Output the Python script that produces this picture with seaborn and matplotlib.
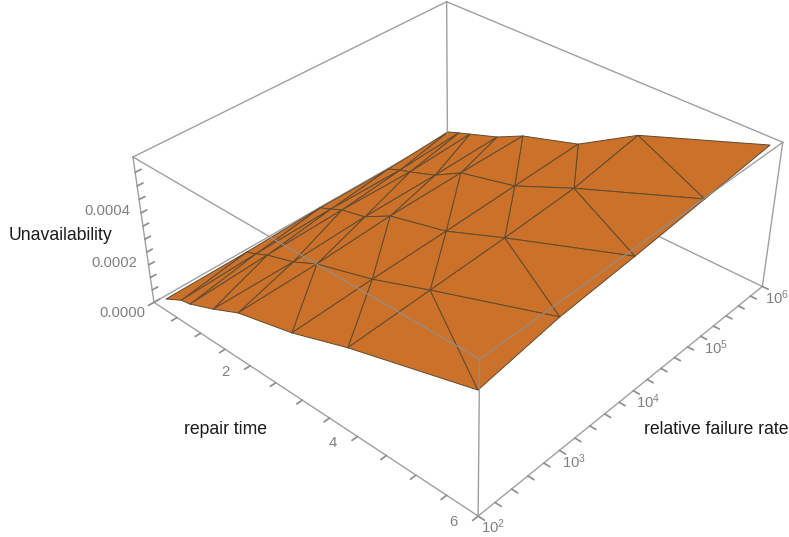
import numpy as np
import matplotlib
matplotlib.use("Agg")
import matplotlib.pyplot as plt
from matplotlib.colors import LightSource
from mpl_toolkits.mplot3d import proj3d
import seaborn as sns

W, H = 789, 537

# log10 of the relative failure rate, one value per mesh row
log_rate = [2, 3, 4, 5, 6]

# repair time of every mesh vertex (rows follow log_rate)
repair_time = [
    [0.30, 0.65, 0.84, 1.34, 1.86, 2.90, 3.91, 5.98],
    [0.25, 0.45, 0.70, 1.25, 1.74, 2.81, 3.85, 5.91],
    [0.18, 0.42, 0.66, 1.14, 1.66, 2.74, 3.79, 5.86],
    [0.13, 0.39, 0.60, 1.13, 1.65, 2.69, 3.75, 5.83],
    [0.01, 0.25, 0.49, 1.06, 1.58, 2.65, 3.71, 5.82],
]

unavailability = [
    [5.0e-5, 8.8e-5, 9.6e-5, 1.38e-4, 1.88e-4, 2.44e-4, 3.20e-4, 4.50e-4],
    [4.2e-5, 5.7e-5, 8.1e-5, 1.17e-4, 1.66e-4, 2.33e-4, 3.17e-4, 4.75e-4],
    [3.6e-5, 5.7e-5, 7.9e-5, 1.03e-4, 1.63e-4, 2.22e-4, 3.14e-4, 4.83e-4],
    [2.4e-5, 4.7e-5, 6.0e-5, 1.01e-4, 1.64e-4, 2.19e-4, 3.21e-4, 5.01e-4],
    [1.2e-5, 3.1e-5, 4.9e-5, 9.2e-5, 1.47e-4, 2.18e-4, 3.57e-4, 5.27e-4],
]

x_ticks = [0, 0.5, 1, 1.5, 2, 2.5, 3, 3.5, 4, 4.5, 5, 5.5, 6]
x_labels = {2: "2", 4: "4", 6: "6"}
y_ticks = [2, 2.2, 2.4, 2.6, 2.8, 3, 3.2, 3.4, 3.6, 3.8, 4, 4.2, 4.4, 4.6, 4.8, 5, 5.2, 5.4, 5.6, 5.8, 6]
y_labels = {2: "$10^{2}$", 3: "$10^{3}$", 4: "$10^{4}$", 5: "$10^{5}$", 6: "$10^{6}$"}
z_ticks = [0, 5e-5, 1e-4, 1.5e-4, 2e-4, 2.5e-4, 3e-4, 3.5e-4, 4e-4, 4.5e-4, 5e-4]
z_labels = {0: "0.0000", 2e-4: "0.0002", 4e-4: "0.0004"}

x_lim = (0, 6)
y_lim = (2, 6)
z_lim = (0, 5.55e-4)

sns.set_theme(style="white", rc={"axes.facecolor": "white"})
plt.rcParams["font.family"] = ["Liberation Sans", "DejaVu Sans"]
plt.rcParams["mathtext.default"] = "regular"

fig = plt.figure(figsize=(W / 100, H / 100), dpi=100)
ax_w = 634.2
ax = fig.add_axes([134.6 / W, -13 / H, ax_w / W, ax_w / H], projection="3d", computed_zorder=False)
ax.set_proj_type("persp", focal_length=0.4485)
ax.view_init(elev=35.01, azim=-47.63)
ax.set_box_aspect((2.2221, 2.2076, 0.8792))
ax.set_xlim(*x_lim)
ax.set_ylim(*y_lim)
ax.set_zlim(*z_lim)

# the mesh: each cell is split along the same diagonal
rt = np.array(repair_time)
rows, cols = rt.shape
yy = np.repeat(log_rate, cols).astype(float)
tris = []
for i in range(rows - 1):
    for j in range(cols - 1):
        a, b = i * cols + j, i * cols + j + 1
        c, d = a + cols, b + cols
        tris += [(a, b, c), (b, d, c)]

surf = ax.plot_trisurf(rt.ravel(), yy, np.array(unavailability).ravel(), triangles=tris,
                       color="#cf732a", edgecolor="#5f4a30", linewidth=0.7, antialiased=True,
                       lightsource=LightSource(azdeg=30, altdeg=70), zorder=2)
surf.set_clip_on(False)

# bounding box, the two bottom back edges stay under the surface
box_color = "#8f8f8f"
ends = [x_lim, y_lim, z_lim]
for axis in range(3):
    others = [k for k in range(3) if k != axis]
    for p in ends[others[0]]:
        for q in ends[others[1]]:
            pts = [[0, 0], [0, 0], [0, 0]]
            pts[axis] = list(ends[axis])
            pts[others[0]] = [p, p]
            pts[others[1]] = [q, q]
            hidden = (axis == 0 and q == z_lim[0] and p == y_lim[1]) or \
                     (axis == 1 and q == z_lim[0] and p == x_lim[0])
            ax.plot(pts[0], pts[1], pts[2], color=box_color, lw=1.0, alpha=0.85,
                    zorder=1 if hidden else 3, clip_on=False)

ax.grid(False)
ax.set_xticks(x_ticks, labels=[""] * len(x_ticks))
ax.set_yticks(y_ticks, labels=[""] * len(y_ticks))
ax.set_zticks(z_ticks, labels=[""] * len(z_ticks))
ax.zaxis.set_ticks_position("lower")
for axis in (ax.xaxis, ax.yaxis, ax.zaxis):
    axis.set_pane_color((1, 1, 1, 0))
    axis.pane.set_edgecolor((1, 1, 1, 0))
    axis.line.set_color((0, 0, 0, 0))
    axis._axinfo["tick"]["inward_factor"] = 0.2
    axis._axinfo["tick"]["outward_factor"] = 0.0
    axis.set_tick_params(color="#8f8f8f", width=0.8)
# the z ticks come out on the other side of the edge in this view
ax.zaxis._axinfo["tick"]["inward_factor"] = 0.0
ax.zaxis._axinfo["tick"]["outward_factor"] = 0.2

# tick labels sit at a fixed pixel offset from the projected tick
M = ax.get_proj()


def tick_label(x, y, z, text, dx, dy, ha="center"):
    X, Y, _ = proj3d.proj_transform(x, y, z, M)
    ax.annotate(text, xy=(X, Y), xycoords="data", xytext=(dx * 0.72, -dy * 0.72),
                textcoords="offset points", ha=ha, va="center", fontsize=10.7,
                color="#808080", annotation_clip=False)


for t, text in x_labels.items():
    tick_label(t, y_lim[0], z_lim[0], text, -25, 6)
for t, text in y_labels.items():
    tick_label(x_lim[1], t, z_lim[0], text, 15, 11)
for t, text in z_labels.items():
    tick_label(x_lim[0], y_lim[0], t, text, -9, 11, ha="right")

label_style = dict(color="#1a1a1a", fontsize=12.7, ha="center", va="center")
fig.text(60 / W, 1 - 236 / H, "Unavailability", **label_style)
fig.text(225 / W, 1 - 430 / H, "repair time", **label_style)
fig.text(716 / W, 1 - 429 / H, "relative failure rate", **label_style)

fig.savefig("out.png", dpi=100)
